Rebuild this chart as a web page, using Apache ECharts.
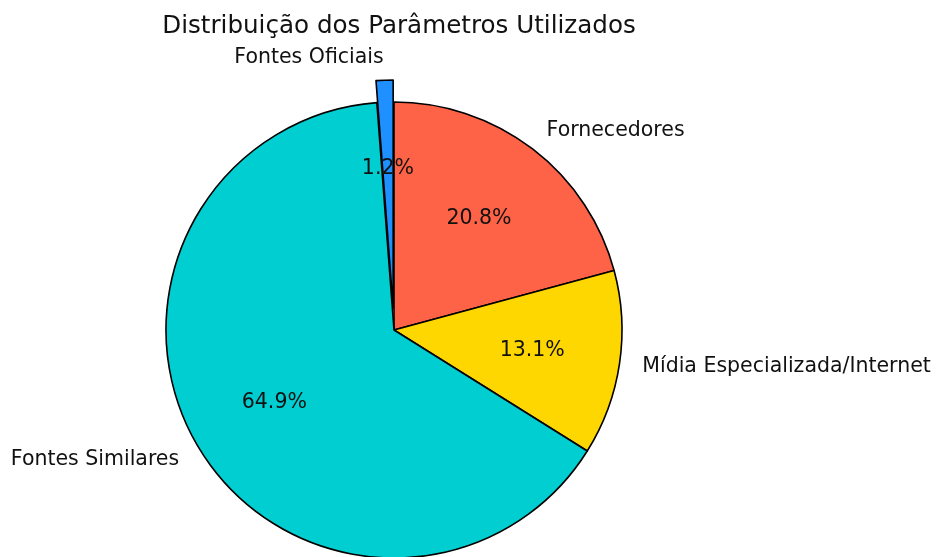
<!DOCTYPE html>
<html>
<head>
<meta charset="utf-8">
<script src="https://cdn.jsdelivr.net/npm/echarts@6/dist/echarts.min.js"></script>
<style>
  html, body { margin: 0; padding: 0; background: #fff; }
  #chart { width: 936px; height: 557px; }
</style>
</head>
<body>
<div id="chart"></div>
<script>
// clockwise from the top
const categories = ['Fornecedores', 'Mídia Especializada/Internet', 'Fontes Similares', 'Fontes Oficiais']
const values = [20.8, 13.1, 64.9, 1.2]
const colors = ['#FF6347', '#FFD700', '#00CED1', '#1E90FF']
const explodedName = 'Fontes Oficiais'

const font = 'DejaVu Sans, sans-serif'
const R = 228

const slices = categories.map((name, i) => ({
  name: name,
  value: values[i],
  selected: name === explodedName,
  itemStyle: { color: colors[i] }
}))

const chart = echarts.init(document.getElementById('chart'))
const option = {
  animation: false,
  title: {
    text: 'Distribuição dos Parâmetros Utilizados',
    left: 394,
    textAlign: 'center',
    top: 9,
    textStyle: { fontFamily: font, fontSize: 24.6, fontWeight: 'normal', color: '#111' }
  },
  series: [
    {
      type: 'pie',
      center: [394, 330],
      radius: [0, R],
      startAngle: 90,
      clockwise: true,
      avoidLabelOverlap: false,
      selectedMode: 'multiple',
      selectedOffset: 22,
      itemStyle: { borderColor: '#000', borderWidth: 1.6 },
      emphasis: { disabled: true },
      label: {
        show: true,
        position: 'outside',
        formatter: '{b}',
        fontFamily: font,
        fontSize: 20.5,
        color: '#111',
        distanceToLabelLine: 0
      },
      labelLine: { show: false, length: 23, length2: 0 },
      data: slices
    },
    {
      // percentage labels at 0.6 R
      type: 'pie',
      center: [394, 330],
      radius: [0, R * 1.2],
      startAngle: 90,
      clockwise: true,
      silent: true,
      selectedMode: 'multiple',
      selectedOffset: 22,
      itemStyle: { color: 'rgba(0,0,0,0)', borderWidth: 0 },
      emphasis: { disabled: true },
      label: {
        show: true,
        position: 'inside',
        formatter: p => p.value.toFixed(1) + '%',
        fontFamily: font,
        fontSize: 20.5,
        color: '#111'
      },
      labelLine: { show: false },
      data: slices.map(d => ({ name: d.name, value: d.value, selected: d.selected }))
    }
  ]
}
chart.setOption(option)
</script>
</body>
</html>
